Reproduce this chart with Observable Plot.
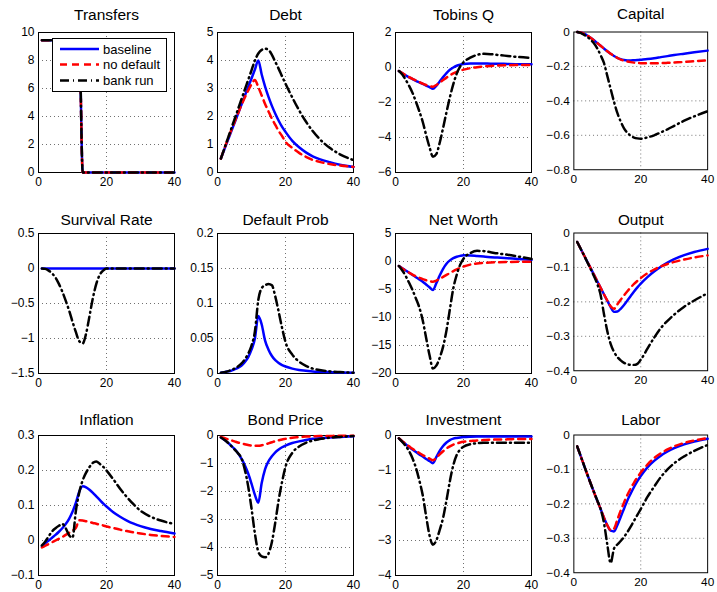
<!DOCTYPE html>
<html><head><meta charset="utf-8">
<script src="https://cdn.jsdelivr.net/npm/d3@7"></script>
<script src="https://cdn.jsdelivr.net/npm/@observablehq/plot@0.6"></script>
<style>
html,body{margin:0;padding:0;background:#fff;}
#chart{position:relative;width:717px;height:592px;overflow:hidden;font-family:"Liberation Sans",Arial,Helvetica,sans-serif;}
.panel{position:absolute;}
.panel svg{overflow:visible;}
#legend{position:absolute;left:0;top:0;pointer-events:none;}
</style></head><body><div id="chart"></div>
<script>
const periods = [1,2,3,4,5,6,7,8,9,10,11,12,13,14,15,16,17,18,19,20,22,24,26,28,30,33,36,40];
const seriesNames = ["baseline","no default","bank run"];
const xTicks = [0,20,40];

const titles = ["Transfers","Debt","Tobins Q","Capital","Survival Rate","Default Prob","Net Worth","Output","Inflation","Bond Price","Investment","Labor"];
const yTicksList = [
  [0,2,4,6,8,10],[0,1,2,3,4,5],[-6,-4,-2,0,2],[-0.8,-0.6,-0.4,-0.2,0],
  [-1.5,-1,-0.5,0,0.5],[0,0.05,0.1,0.15,0.2],[-20,-15,-10,-5,0,5],[-0.4,-0.3,-0.2,-0.1,0],
  [-0.1,0,0.1,0.2,0.3],[-5,-4,-3,-2,-1,0],[-4,-3,-2,-1,0],[-0.4,-0.3,-0.2,-0.1,0]
];

const transfersBase   = [9.45,9.45,9.45,9.45,9.45,9.45,9.45,9.45,9.45,9.45,9.45,9.45,0,0,0,0,0,0,0,0,0,0,0,0,0,0,0,0];
const transfersNoDef  = [9.45,9.45,9.45,9.45,9.45,9.45,9.45,9.45,9.45,9.45,9.45,9.45,0,0,0,0,0,0,0,0,0,0,0,0,0,0,0,0];
const transfersRun    = [9.45,9.45,9.45,9.45,9.45,9.45,9.45,9.45,9.45,9.45,9.45,9.45,0,0,0,0,0,0,0,0,0,0,0,0,0,0,0,0];

const debtBase  = [0.5,0.82,1.14,1.45,1.77,2.09,2.41,2.73,3.05,3.36,3.68,4.0,3.5,3.07,2.7,2.38,2.1,1.85,1.63,1.45,1.13,0.9,0.72,0.58,0.48,0.37,0.28,0.2];
const debtNoDef = [0.5,0.85,1.18,1.5,1.8,2.1,2.4,2.67,2.92,3.15,3.3,3.05,2.75,2.45,2.18,1.92,1.7,1.48,1.3,1.1,0.88,0.7,0.56,0.45,0.38,0.3,0.25,0.2];
const debtRun   = [0.5,0.85,1.2,1.55,1.9,2.25,2.6,2.95,3.3,3.65,4.0,4.25,4.38,4.42,4.38,4.2,3.95,3.7,3.43,3.17,2.68,2.22,1.82,1.48,1.2,0.88,0.65,0.44];

const tobinBase  = [-0.2,-0.33,-0.45,-0.56,-0.66,-0.76,-0.85,-0.94,-1.03,-1.12,-1.22,-1.05,-0.8,-0.55,-0.32,-0.13,0.0,0.1,0.16,0.2,0.23,0.23,0.23,0.22,0.22,0.2,0.19,0.18];
const tobinNoDef = [-0.2,-0.32,-0.44,-0.55,-0.65,-0.74,-0.83,-0.92,-1.0,-1.07,-1.1,-1.0,-0.86,-0.72,-0.58,-0.45,-0.34,-0.25,-0.18,-0.12,-0.04,0.02,0.06,0.09,0.11,0.13,0.14,0.15];
const tobinRun   = [-0.2,-0.4,-0.7,-1.05,-1.45,-1.95,-2.5,-3.1,-3.85,-4.55,-5.1,-4.95,-4.3,-3.45,-2.55,-1.7,-0.95,-0.35,0.05,0.3,0.56,0.72,0.78,0.76,0.72,0.66,0.6,0.55];

const capitalBase  = [0,-0.003,-0.01,-0.02,-0.033,-0.048,-0.064,-0.08,-0.096,-0.112,-0.126,-0.139,-0.15,-0.158,-0.163,-0.165,-0.165,-0.164,-0.163,-0.161,-0.157,-0.152,-0.146,-0.14,-0.134,-0.126,-0.118,-0.108];
const capitalNoDef = [0,-0.003,-0.01,-0.02,-0.033,-0.048,-0.064,-0.08,-0.096,-0.112,-0.126,-0.139,-0.15,-0.16,-0.166,-0.171,-0.175,-0.178,-0.18,-0.181,-0.182,-0.182,-0.181,-0.179,-0.177,-0.174,-0.17,-0.165];
const capitalRun   = [0,-0.005,-0.015,-0.028,-0.045,-0.065,-0.095,-0.135,-0.18,-0.255,-0.33,-0.405,-0.47,-0.52,-0.56,-0.585,-0.603,-0.613,-0.618,-0.62,-0.612,-0.6,-0.583,-0.565,-0.545,-0.515,-0.49,-0.46];

const survivalBase  = [0,0,0,0,0,0,0,0,0,0,0,0,0,0,0,0,0,0,0,0,0,0,0,0,0,0,0,0];
const survivalNoDef = null;
const survivalRun   = [0,-0.005,-0.03,-0.07,-0.13,-0.22,-0.33,-0.46,-0.6,-0.76,-0.91,-1.04,-1.07,-0.93,-0.68,-0.42,-0.22,-0.09,-0.03,0,0,0,0,0,0,0,0,0];

const defaultBase  = [0.001,0.002,0.003,0.004,0.006,0.008,0.011,0.016,0.023,0.034,0.05,0.082,0.07,0.047,0.034,0.025,0.019,0.015,0.012,0.01,0.007,0.005,0.004,0.003,0.0025,0.002,0.0015,0.001];
const defaultNoDef = null;
const defaultRun   = [0.001,0.002,0.003,0.005,0.007,0.01,0.014,0.02,0.028,0.04,0.06,0.105,0.122,0.126,0.128,0.126,0.11,0.088,0.065,0.045,0.027,0.017,0.011,0.007,0.005,0.003,0.002,0.001];

const netWorthBase  = [-0.8,-1.2,-1.6,-2.0,-2.4,-2.8,-3.2,-3.6,-4.1,-4.6,-5.1,-3.9,-2.5,-1.3,-0.4,0.2,0.6,0.85,1.0,1.1,1.08,0.98,0.88,0.78,0.7,0.58,0.45,0.3];
const netWorthNoDef = [-0.8,-1.25,-1.65,-2.0,-2.35,-2.65,-2.9,-3.15,-3.35,-3.5,-3.6,-3.4,-3.1,-2.75,-2.4,-2.05,-1.72,-1.42,-1.15,-0.9,-0.55,-0.35,-0.25,-0.18,-0.13,-0.08,-0.05,-0.02];
const netWorthRun   = [-0.8,-1.6,-2.6,-3.8,-5.1,-6.6,-8.2,-10.5,-13.6,-16.7,-19.1,-18.6,-17.2,-15.2,-12.3,-8.5,-4.8,-2.4,-0.6,0.5,1.5,1.9,1.85,1.65,1.45,1.2,0.9,0.45];

const outputBase  = [-0.026,-0.045,-0.064,-0.083,-0.102,-0.121,-0.14,-0.159,-0.178,-0.197,-0.215,-0.229,-0.228,-0.22,-0.209,-0.196,-0.183,-0.17,-0.158,-0.147,-0.128,-0.112,-0.098,-0.086,-0.076,-0.064,-0.055,-0.046];
const outputNoDef = [-0.026,-0.045,-0.064,-0.083,-0.102,-0.121,-0.14,-0.159,-0.178,-0.196,-0.213,-0.22,-0.207,-0.194,-0.181,-0.169,-0.158,-0.148,-0.139,-0.131,-0.117,-0.106,-0.097,-0.09,-0.084,-0.077,-0.071,-0.065];
const outputRun   = [-0.026,-0.045,-0.064,-0.084,-0.104,-0.125,-0.148,-0.18,-0.235,-0.285,-0.322,-0.345,-0.36,-0.37,-0.377,-0.381,-0.383,-0.383,-0.38,-0.368,-0.336,-0.304,-0.276,-0.255,-0.237,-0.214,-0.196,-0.175];

const inflationBase  = [-0.016,-0.008,0.0,0.008,0.016,0.025,0.035,0.047,0.062,0.082,0.108,0.14,0.155,0.152,0.145,0.136,0.126,0.116,0.106,0.097,0.081,0.068,0.057,0.048,0.041,0.033,0.027,0.02];
const inflationNoDef = [-0.02,-0.015,-0.01,-0.005,0.0,0.005,0.01,0.016,0.022,0.028,0.036,0.058,0.057,0.055,0.053,0.05,0.048,0.045,0.043,0.04,0.036,0.031,0.027,0.023,0.02,0.016,0.013,0.01];
const inflationRun   = [-0.014,-0.003,0.012,0.026,0.035,0.042,0.047,0.035,0.015,0.008,0.085,0.138,0.172,0.194,0.21,0.222,0.226,0.219,0.211,0.2,0.175,0.148,0.124,0.103,0.085,0.068,0.057,0.047];

const bondBase  = [-0.07,-0.15,-0.25,-0.36,-0.48,-0.63,-0.82,-1.05,-1.35,-1.72,-2.12,-2.4,-1.7,-1.2,-0.92,-0.74,-0.6,-0.5,-0.42,-0.36,-0.27,-0.21,-0.16,-0.12,-0.1,-0.07,-0.05,-0.03];
const bondNoDef = [-0.05,-0.09,-0.13,-0.17,-0.21,-0.25,-0.28,-0.31,-0.34,-0.36,-0.37,-0.37,-0.35,-0.32,-0.28,-0.24,-0.2,-0.17,-0.14,-0.12,-0.08,-0.06,-0.04,-0.03,-0.02,-0.015,-0.01,-0.005];
const bondRun   = [-0.07,-0.15,-0.25,-0.37,-0.5,-0.63,-0.8,-1.2,-1.8,-2.6,-3.5,-4.15,-4.32,-4.35,-4.22,-3.8,-3.1,-2.3,-1.65,-1.12,-0.62,-0.39,-0.26,-0.18,-0.13,-0.08,-0.05,-0.02];

const investBase  = [-0.08,-0.17,-0.25,-0.33,-0.4,-0.47,-0.54,-0.6,-0.67,-0.73,-0.79,-0.62,-0.44,-0.3,-0.2,-0.13,-0.09,-0.07,-0.055,-0.045,-0.035,-0.03,-0.03,-0.03,-0.03,-0.03,-0.03,-0.03];
const investNoDef = [-0.08,-0.16,-0.24,-0.31,-0.38,-0.44,-0.5,-0.56,-0.61,-0.66,-0.71,-0.64,-0.54,-0.45,-0.37,-0.31,-0.26,-0.23,-0.2,-0.18,-0.16,-0.14,-0.13,-0.12,-0.115,-0.11,-0.1,-0.1];
const investRun   = [-0.08,-0.18,-0.3,-0.45,-0.65,-0.92,-1.28,-1.7,-2.3,-2.85,-3.12,-3.0,-2.7,-2.35,-1.85,-1.3,-0.85,-0.56,-0.4,-0.32,-0.25,-0.22,-0.21,-0.21,-0.21,-0.21,-0.21,-0.21];

const laborBase  = [-0.033,-0.06,-0.087,-0.114,-0.14,-0.166,-0.191,-0.215,-0.24,-0.262,-0.278,-0.28,-0.262,-0.238,-0.214,-0.19,-0.17,-0.151,-0.134,-0.119,-0.094,-0.075,-0.06,-0.048,-0.038,-0.027,-0.019,-0.011];
const laborNoDef = [-0.033,-0.06,-0.087,-0.114,-0.14,-0.166,-0.191,-0.215,-0.24,-0.262,-0.276,-0.272,-0.246,-0.22,-0.196,-0.174,-0.155,-0.138,-0.123,-0.109,-0.086,-0.067,-0.053,-0.042,-0.033,-0.023,-0.016,-0.009];
const laborRun   = [-0.033,-0.06,-0.087,-0.114,-0.14,-0.165,-0.19,-0.215,-0.255,-0.318,-0.372,-0.33,-0.318,-0.308,-0.296,-0.282,-0.266,-0.249,-0.232,-0.215,-0.18,-0.15,-0.122,-0.1,-0.082,-0.062,-0.046,-0.029];

const panelSeries = [
  [transfersBase,transfersNoDef,transfersRun],[debtBase,debtNoDef,debtRun],[tobinBase,tobinNoDef,tobinRun],[capitalBase,capitalNoDef,capitalRun],
  [survivalBase,survivalNoDef,survivalRun],[defaultBase,defaultNoDef,defaultRun],[netWorthBase,netWorthNoDef,netWorthRun],[outputBase,outputNoDef,outputRun],
  [inflationBase,inflationNoDef,inflationRun],[bondBase,bondNoDef,bondRun],[investBase,investNoDef,investRun],[laborBase,laborNoDef,laborRun]
];

// layout
const frameLeft = [38, 217, 395, 574];
const frameTop = [32, 233, 435];
const frameW = 136, frameH = 140;
const mL = 40, mR = 10, mT = 30, mB = 22;
const titleDy = [-17.8, -13.5, -15.5];
const styles = [
  {stroke:"#0000ff", strokeWidth:2.5},
  {stroke:"#ff0000", strokeWidth:2.5, strokeDasharray:"7,5"},
  {stroke:"#000000", strokeWidth:2.5, strokeDasharray:"9,4,1,4"}
];
const fmt = d => (d < 0 ? "\u2212" : "") + Math.abs(d);
const chart = document.getElementById("chart");

titles.forEach((title, i) => {
  const r = Math.floor(i / 4), c = i % 4;
  const ticks = yTicksList[i];
  const domain = [ticks[0], ticks[ticks.length - 1]];
  const interior = ticks.filter(v => v !== domain[0] && v !== domain[1]);
  const marks = [
    Plot.ruleY(interior, {stroke:"#333", strokeOpacity:0.7, strokeDasharray:"1,3"}),
    Plot.ruleX([20], {stroke:"#333", strokeOpacity:0.7, strokeDasharray:"1,3"}),
    Plot.frame({stroke:"#000", strokeWidth:1})
  ];
  panelSeries[i].forEach((vals, k) => {
    if (!vals) return;
    const data = periods.map((t, j) => ({t, v: vals[j], s: seriesNames[k]}));
    marks.push(Plot.line(data, {x:"t", y:"v", curve:"monotone-x", ...styles[k]}));
  });
  marks.push(Plot.text([title], {text: d => d, frameAnchor:"top", lineAnchor:"middle", dy: titleDy[r], fontSize:15.5, fill:"#000"}));
  const svg = Plot.plot({
    width: mL + frameW + mR, height: mT + frameH + mB,
    marginLeft: mL, marginRight: mR, marginTop: mT, marginBottom: mB,
    x: {domain:[0,40], ticks: xTicks, tickSize:0, tickPadding:5, label:null, tickFormat: fmt},
    y: {domain, ticks, tickSize:0, tickPadding:4, label:null, tickFormat: fmt},
    style: {fontSize:"12px", fontFamily:"'Liberation Sans', Arial, Helvetica, sans-serif", color:"#000", background:"transparent", overflow:"visible"},
    marks
  });
  const div = document.createElement("div");
  div.className = "panel";
  div.style.left = (frameLeft[c] - mL) + "px";
  div.style.top = (frameTop[r] - mT) + "px";
  div.appendChild(svg);
  chart.appendChild(div);
});

// legend (inside Transfers panel)
const ns = "http://www.w3.org/2000/svg";
const lg = document.createElementNS(ns, "svg");
lg.setAttribute("id","legend");
lg.setAttribute("width","717"); lg.setAttribute("height","592");
const box = document.createElementNS(ns, "rect");
box.setAttribute("x","52.5"); box.setAttribute("y","38.5"); box.setAttribute("width","114"); box.setAttribute("height","53");
box.setAttribute("fill","#fff"); box.setAttribute("stroke","#000"); box.setAttribute("stroke-width","1");
lg.appendChild(box);
const rowsY = [49, 64.5, 80.5];
seriesNames.forEach((name, k) => {
  const ln = document.createElementNS(ns, "line");
  ln.setAttribute("x1","60"); ln.setAttribute("x2","99");
  ln.setAttribute("y1", rowsY[k]); ln.setAttribute("y2", rowsY[k]);
  ln.setAttribute("stroke", styles[k].stroke);
  ln.setAttribute("stroke-width", styles[k].strokeWidth);
  if (styles[k].strokeDasharray) ln.setAttribute("stroke-dasharray", styles[k].strokeDasharray);
  lg.appendChild(ln);
  const tx = document.createElementNS(ns, "text");
  tx.setAttribute("x","103"); tx.setAttribute("y", rowsY[k]);
  tx.setAttribute("dominant-baseline","central");
  tx.setAttribute("font-size","13");
  tx.setAttribute("font-family","'Liberation Sans', Arial, sans-serif");
  tx.textContent = name;
  lg.appendChild(tx);
});
chart.appendChild(lg);
</script>
</body></html>
